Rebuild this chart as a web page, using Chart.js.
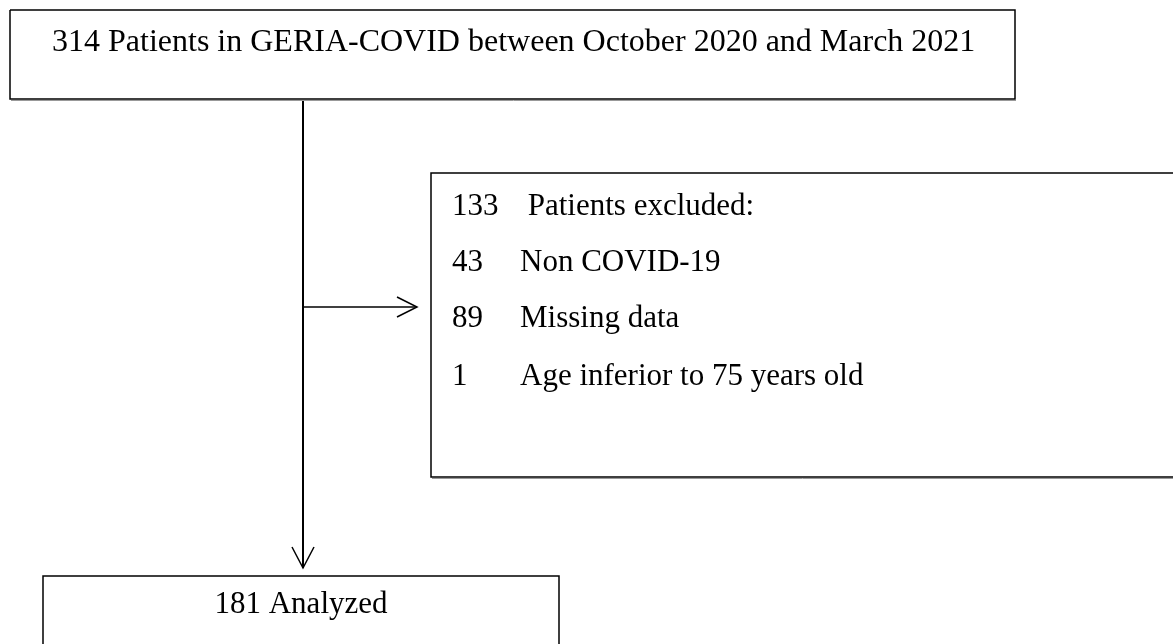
<!DOCTYPE html>
<html>
<head>
<meta charset="utf-8">
<script src="https://cdn.jsdelivr.net/npm/chart.js@4"></script>
<style>
  html, body { margin: 0; padding: 0; background: #fff; }
  canvas { display: block; }
</style>
</head>
<body>
<canvas id="flow" width="1173" height="644"></canvas>
<script>
// Flow chart content
const enrolledCount = [314];
const enrolledText = ['Patients in GERIA-COVID between October 2020 and March 2021'];
const excludedCounts = ['133', '43', '89', '1'];
const excludedReasons = [' Patients excluded:', 'Non COVID-19', 'Missing data', 'Age inferior to 75 years old'];
const analyzedCount = [181];
const analyzedText = ['Analyzed'];

// Layout in page units (the scales run 0..1173 and 0..644)
const W = 1173, H = 644;
const topBox = { l: 10, t: 10, r: 1015, b: 99 };
const exclBox = { l: 431, t: 173, r: 1190, b: 477 };
const endBox = { l: 43, t: 576, r: 559, b: 660 };
const trunkX = 303, branchY = 307, branchEnd = 417, trunkEnd = 568;
const textRows = [215, 271, 327, 385];

function seg(points, width, color) {
  return {
    data: points.map(p => ({ x: p[0], y: p[1] })),
    showLine: true,
    pointRadius: 0,
    borderColor: color || '#000',
    borderWidth: width || 1.5,
    fill: false,
    clip: false
  };
}

const datasets = [
  // top box
  seg([[topBox.l, topBox.t], [topBox.r, topBox.t], [topBox.r, topBox.b], [topBox.l, topBox.b], [topBox.l, topBox.t]]),
  seg([[topBox.l + 1, topBox.b + 1.5], [topBox.r + 1, topBox.b + 1.5]], 1, '#999'),
  // exclusion box (runs off the right edge)
  seg([[W, exclBox.t], [exclBox.l, exclBox.t], [exclBox.l, exclBox.b], [W, exclBox.b]]),
  seg([[exclBox.l + 1, exclBox.b + 1.5], [W, exclBox.b + 1.5]], 1, '#999'),
  // analyzed box (runs off the bottom edge)
  seg([[endBox.l, H], [endBox.l, endBox.t], [endBox.r, endBox.t], [endBox.r, H]]),
  // trunk + arrow head
  seg([[trunkX, topBox.b + 1], [trunkX, trunkEnd]], 2),
  seg([[trunkX - 11, trunkEnd - 21], [trunkX, trunkEnd], [trunkX + 11, trunkEnd - 21]], 1.5),
  // branch + arrow head
  seg([[trunkX, branchY], [branchEnd, branchY]], 1.5),
  seg([[branchEnd - 20, branchY - 10], [branchEnd, branchY], [branchEnd - 20, branchY + 10]], 1.5)
];

const textPlugin = {
  id: 'boxText',
  afterDatasetsDraw(chart) {
    const ctx = chart.ctx;
    const xs = chart.scales.x, ys = chart.scales.y;
    const px = v => xs.getPixelForValue(v);
    const py = v => ys.getPixelForValue(v);
    ctx.save();
    ctx.fillStyle = '#000';
    ctx.textBaseline = 'alphabetic';

    ctx.font = '32px "Liberation Serif", "Times New Roman", serif';
    ctx.textAlign = 'left';
    ctx.fillText(enrolledCount[0] + ' ' + enrolledText[0], px(52), py(51));

    ctx.font = '31px "Liberation Serif", "Times New Roman", serif';
    excludedCounts.forEach((n, i) => {
      ctx.fillText(n, px(452), py(textRows[i]));
      ctx.fillText(excludedReasons[i], px(520), py(textRows[i]));
    });

    ctx.textAlign = 'center';
    ctx.fillText(analyzedCount[0] + ' ' + analyzedText[0], px((endBox.l + endBox.r) / 2), py(613));
    ctx.restore();
  }
};

new Chart(document.getElementById('flow').getContext('2d'), {
  type: 'scatter',
  data: { datasets: datasets },
  options: {
    responsive: false,
    animation: false,
    devicePixelRatio: 1,
    layout: { padding: 0 },
    plugins: { legend: { display: false }, tooltip: { enabled: false } },
    scales: {
      x: { type: 'linear', min: 0, max: W, display: false },
      y: { type: 'linear', min: 0, max: H, reverse: true, display: false }
    }
  },
  plugins: [textPlugin]
});
</script>
</body>
</html>
